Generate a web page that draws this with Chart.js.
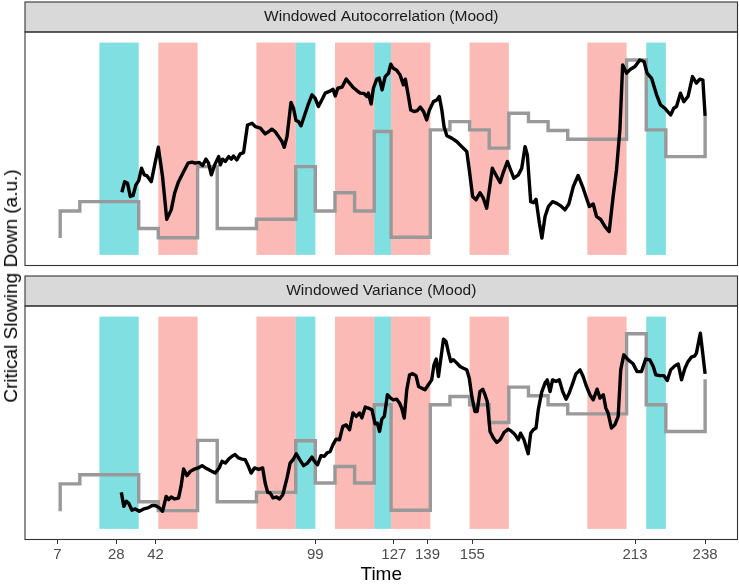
<!DOCTYPE html>
<html lang="en">
  <head>
    <meta charset="UTF-8" />
    <title>Critical Slowing Down (Mood)</title>
    <script src="https://cdn.jsdelivr.net/npm/chart.js@4.4.1/dist/chart.umd.min.js"></script>
    <style>
      body {
        margin: 0;
        background: #ffffff;
        font-family: 'Liberation Sans', Arial, Helvetica, sans-serif;
      }
      #wrap {
        position: relative;
        width: 739px;
        height: 584px;
        background: #ffffff;
      }
      #top, #bottom {
        position: absolute;
        left: 0;
      }
      #top { top: 0; }
      #bottom { top: 270px; }
      #ytitle {
        position: absolute;
        left: 11px;
        top: 286px;
        transform: translate(-50%, -50%) rotate(-90deg);
        white-space: nowrap;
        font-size: 19px;
        color: #000000;
      }
    </style>
  </head>
  <body>
    <div id="wrap">
      <canvas id="top" width="739" height="270"></canvas>
      <canvas id="bottom" width="739" height="314"></canvas>
      <div id="ytitle">Critical Slowing Down (a.u.)</div>
    </div>

    <script>
      // axis ticks shown on the time axis
      const timeTicks = [7, 28, 42, 99, 127, 139, 155, 213, 238];
      const timeMin = 7;
      const timeMax = 238;

      // shaded periods
      const cyanStart = [22, 92, 120, 217];
      const cyanEnd = [36, 99, 126, 224];
      const salmonStart = [43, 78, 106, 126, 154, 196];
      const salmonEnd = [57, 92, 120, 140, 168, 210];
      const bandLow = 0;
      const bandHigh = 1;

      // grey step line (value holds from each time onward)
      const acStepTime = [8, 8, 15, 36, 43, 57, 64, 78, 92, 99, 106, 113, 120, 126, 140, 147, 154, 161, 168, 175, 182, 189, 210, 217, 224, 238];
      const acStepValue = [0.079, 0.207, 0.251, 0.124, 0.081, 0.416, 0.124, 0.168, 0.416, 0.207, 0.293, 0.207, 0.581, 0.083, 0.589, 0.628, 0.589, 0.503, 0.667, 0.628, 0.586, 0.545, 0.918, 0.589, 0.463, 0.655];

      const varStepTime = [8, 8, 15, 36, 43, 57, 64, 78, 92, 99, 106, 113, 120, 126, 140, 147, 154, 161, 168, 175, 182, 189, 210, 217, 224, 238];
      const varStepValue = [0.083, 0.212, 0.255, 0.128, 0.086, 0.417, 0.128, 0.172, 0.415, 0.216, 0.294, 0.216, 0.585, 0.088, 0.585, 0.624, 0.585, 0.501, 0.668, 0.627, 0.585, 0.542, 0.919, 0.585, 0.459, 0.705];

      // windowed autocorrelation (black)
      const acTime = [30, 31, 32, 33, 34, 35, 36, 37, 38, 39, 40.5, 41.7, 43, 44.5, 46, 47.6, 48.8, 50.2, 52, 53.6,
        55, 56.1, 57.6, 58.8, 60, 60.9, 61.9, 63.1, 64.5, 65.1, 65.9, 66.9, 68.1, 69, 69.8, 71, 72.2, 73.4, 74.8, 76.4,
        77.6, 79.4, 81.1, 82.3, 83.5, 84.7, 85.9, 87.1, 87.9, 88.9, 90.3, 91.2, 92.1, 93, 93.9, 95, 96.6, 97.8, 98.9, 100.1,
        101.3, 102.5, 104, 105.3, 106.1, 107, 108.5, 110, 111.2, 112.4, 113.8, 115, 116.4, 117.4, 117.9, 118.9, 119.7, 120.9, 121.8, 122.8,
        123.9, 125.1, 125.9, 126.8, 128, 129.2, 130.4, 131.1, 132.2, 133, 134.2, 135.4, 136.4, 137.6, 138.7, 139.7, 141.1, 142.3, 143.2, 144.1,
        144.9, 145.9, 147.6, 149.4, 151.2, 153, 153.9, 155.1, 156.3, 157.7, 158.9, 160.1, 161.3, 162.1, 163.7, 164.9, 166, 167.5, 168.4, 169.8,
        171.4, 172.6, 173.8, 174.6, 175.8, 176.8, 177.7, 178.9, 179.8, 180.9, 182.1, 183.6, 185.1, 186.5, 188, 189.4, 191, 192.7, 194.3, 195.5,
        196.7, 198.1, 199.3, 200.7, 202.3, 203.8, 205.2, 206.4, 207.6, 208.6, 210, 211.4, 213, 214.7, 216.2, 217.3, 218.9, 220.7, 222.1, 223.6,
        225.7, 226.8, 227.8, 229.2, 230.4, 231.9, 233.5, 234.9, 236.1, 237.2, 238];
      const acValue = [0.295, 0.345, 0.338, 0.275, 0.28, 0.33, 0.35, 0.408, 0.377, 0.372, 0.345, 0.424, 0.507, 0.369, 0.168, 0.212, 0.29, 0.345, 0.392, 0.432,
        0.437, 0.432, 0.435, 0.421, 0.451, 0.432, 0.377, 0.424, 0.463, 0.424, 0.451, 0.44, 0.463, 0.451, 0.466, 0.447, 0.476, 0.482, 0.612, 0.62,
        0.604, 0.597, 0.57, 0.58, 0.592, 0.58, 0.557, 0.534, 0.507, 0.557, 0.718, 0.691, 0.633, 0.628, 0.608, 0.652, 0.714, 0.754, 0.738, 0.699,
        0.73, 0.762, 0.77, 0.78, 0.749, 0.785, 0.79, 0.828, 0.809, 0.79, 0.774, 0.762, 0.76, 0.746, 0.762, 0.711, 0.785, 0.828, 0.833, 0.777,
        0.84, 0.856, 0.898, 0.879, 0.87, 0.848, 0.801, 0.828, 0.746, 0.683, 0.675, 0.68, 0.696, 0.675, 0.636, 0.683, 0.722, 0.73, 0.746, 0.683,
        0.604, 0.561, 0.55, 0.534, 0.51, 0.487, 0.4, 0.275, 0.259, 0.293, 0.267, 0.22, 0.33, 0.408, 0.369, 0.341, 0.388, 0.44, 0.408, 0.361,
        0.377, 0.408, 0.51, 0.471, 0.251, 0.246, 0.262, 0.149, 0.079, 0.18, 0.228, 0.251, 0.243, 0.231, 0.212, 0.24, 0.322, 0.374, 0.322, 0.275,
        0.228, 0.24, 0.18, 0.168, 0.133, 0.11, 0.275, 0.4, 0.589, 0.895, 0.856, 0.875, 0.887, 0.918, 0.911, 0.856, 0.832, 0.754, 0.707, 0.691,
        0.659, 0.691, 0.699, 0.762, 0.722, 0.746, 0.84, 0.809, 0.828, 0.823, 0.655];

      // windowed variance (black)
      const varTime = [29.8, 30.7, 31.6, 32.4, 33.6, 34.8, 36.2, 37.8, 39.3, 40.8, 41.9, 43.4, 44.5, 45.8, 46.7, 47.6, 48.8, 50.2, 51.1, 52,
        53.2, 54.4, 55.6, 57.2, 58.6, 59.8, 60.9, 62.1, 63.3, 64.7, 65.7, 66.9, 68.1, 69.3, 70.4, 71.6, 72.8, 74, 75, 76.1,
        77.3, 78.8, 80.2, 81.1, 82, 82.9, 83.9, 85.1, 86.2, 87.4, 88.9, 90, 91.2, 92.2, 93.4, 94.8, 96.2, 97.8, 98.7, 99.8,
        101, 102.2, 103.1, 104.3, 105.3, 106.4, 107.6, 108.8, 110, 111.2, 112.4, 113.6, 114.8, 115.6, 116.8, 117.9, 119.2, 120.3, 121.1, 121.9,
        122.7, 123.6, 124.7, 125.9, 126.8, 128, 129, 129.8, 130.7, 131.6, 132.6, 133.7, 134.9, 135.8, 137, 138.1, 139.3, 140.5, 141.3, 142.1,
        142.9, 143.7, 144.7, 145.6, 146.4, 147.3, 148.2, 149.4, 150.6, 151.8, 153, 153.9, 154.8, 155.9, 156.7, 157.7, 158.7, 159.5, 160.3, 161.3,
        162.5, 163.7, 164.9, 166.3, 167.8, 169, 170.2, 171.4, 172.2, 173.4, 174.9, 175.8, 176.7, 177.7, 178.5, 179.7, 180.9, 181.7, 182.7, 183.6,
        184.8, 186, 187.2, 188.4, 189.5, 190.8, 191.9, 193.4, 194.5, 195.7, 196.9, 198.1, 199.5, 200.5, 201.7, 202.6, 203.4, 204.6, 205.8, 207,
        207.9, 209, 210.6, 212.3, 213.7, 215.3, 216.8, 218.3, 219.5, 220.4, 221.8, 223.3, 224.5, 225.7, 227.2, 228.4, 229.6, 230.8, 231.9, 233.1,
        234.3, 234.9, 236.3, 237, 238];
      const varValue = [0.172, 0.106, 0.13, 0.122, 0.088, 0.094, 0.083, 0.094, 0.099, 0.11, 0.11, 0.099, 0.083, 0.153, 0.138, 0.15, 0.141, 0.145, 0.2, 0.282,
        0.251, 0.271, 0.28, 0.287, 0.298, 0.287, 0.28, 0.271, 0.263, 0.287, 0.318, 0.31, 0.329, 0.342, 0.35, 0.334, 0.329, 0.326, 0.298, 0.263,
        0.287, 0.28, 0.287, 0.216, 0.172, 0.169, 0.146, 0.15, 0.141, 0.161, 0.24, 0.31, 0.329, 0.354, 0.326, 0.298, 0.31, 0.338, 0.318, 0.302,
        0.345, 0.342, 0.357, 0.365, 0.397, 0.423, 0.42, 0.483, 0.49, 0.467, 0.546, 0.53, 0.546, 0.523, 0.574, 0.569, 0.561, 0.495, 0.498, 0.459,
        0.517, 0.53, 0.632, 0.616, 0.608, 0.611, 0.593, 0.569, 0.522, 0.655, 0.726, 0.731, 0.722, 0.671, 0.663, 0.655, 0.679, 0.702, 0.773, 0.8,
        0.718, 0.797, 0.894, 0.883, 0.835, 0.788, 0.797, 0.782, 0.765, 0.757, 0.75, 0.71, 0.624, 0.553, 0.553, 0.647, 0.658, 0.632, 0.6, 0.459,
        0.428, 0.407, 0.42, 0.454, 0.47, 0.459, 0.444, 0.42, 0.451, 0.42, 0.354, 0.451, 0.467, 0.475, 0.561, 0.643, 0.687, 0.702, 0.647, 0.702,
        0.695, 0.702, 0.647, 0.611, 0.639, 0.687, 0.73, 0.749, 0.718, 0.671, 0.632, 0.608, 0.658, 0.616, 0.632, 0.569, 0.546, 0.475, 0.49, 0.53,
        0.749, 0.82, 0.796, 0.778, 0.741, 0.741, 0.8, 0.796, 0.765, 0.726, 0.722, 0.722, 0.699, 0.749, 0.768, 0.777, 0.702, 0.757, 0.788, 0.809,
        0.815, 0.828, 0.922, 0.844, 0.73];

      const FONT = "'Liberation Sans', Arial, Helvetica, sans-serif";
      const CYAN = 'rgba(0, 191, 196, 0.5)';
      const SALMON = 'rgba(248, 118, 109, 0.5)';
      const FRAME = '#333333';

      const toPoints = (xs, ys) => xs.map((x, i) => ({ x: x, y: ys[i] }));

      // shaded bands behind the lines
      const bandsPlugin = {
        id: 'bands',
        beforeDatasetsDraw(chart) {
          const { ctx, scales: { x, y } } = chart;
          const yTop = y.getPixelForValue(bandHigh);
          const yBot = y.getPixelForValue(bandLow);
          ctx.save();
          const fillBand = (s, e, color) => {
            const x0 = x.getPixelForValue(s);
            const x1 = x.getPixelForValue(e);
            ctx.fillStyle = color;
            ctx.fillRect(x0, yTop, x1 - x0, yBot - yTop);
          };
          cyanStart.forEach((s, i) => fillBand(s, cyanEnd[i], CYAN));
          salmonStart.forEach((s, i) => fillBand(s, salmonEnd[i], SALMON));
          ctx.restore();
        },
      };

      // facet strip above the panel + panel border
      const stripPlugin = {
        id: 'strip',
        afterDraw(chart, args, opts) {
          const { ctx, chartArea: a } = chart;
          ctx.save();
          const h = 30;
          ctx.fillStyle = '#d9d9d9';
          ctx.fillRect(a.left, a.top - h, a.right - a.left, h);
          ctx.strokeStyle = FRAME;
          ctx.lineWidth = 1.1;
          ctx.strokeRect(a.left, a.top - h, a.right - a.left, h);
          ctx.strokeRect(a.left, a.top, a.right - a.left, a.bottom - a.top);
          ctx.fillStyle = '#1a1a1a';
          ctx.font = '15.5px ' + FONT;
          ctx.textAlign = 'center';
          ctx.textBaseline = 'middle';
          ctx.fillText(opts.text, (a.left + a.right) / 2, a.top - h / 2);
          ctx.restore();
        },
      };

      function makeChart(canvasId, title, stepT, stepV, lineT, lineV, showAxis) {
        const ctx = document.getElementById(canvasId).getContext('2d');
        const xPad = (timeMax - timeMin) * 0.05;
        return new Chart(ctx, {
          type: 'line',
          data: {
            datasets: [
              {
                data: toPoints(lineT, lineV),
                borderColor: '#000000',
                borderWidth: 3.4,
                pointRadius: 0,
                borderJoinStyle: 'round',
                tension: 0,
                order: 1,
              },
              {
                data: toPoints(stepT, stepV),
                borderColor: '#999999',
                borderWidth: 3.4,
                pointRadius: 0,
                stepped: 'before',
                order: 2,
              },
            ],
          },
          options: {
            responsive: false,
            animation: false,
            events: [],
            layout: {
              padding: showAxis
                ? { left: 25, right: 1.5, top: 36, bottom: 0 }
                : { left: 25, right: 1.5, top: 32, bottom: 4.5 },
            },
            plugins: {
              legend: { display: false },
              tooltip: { enabled: false },
              strip: { text: title },
            },
            scales: {
              x: {
                type: 'linear',
                min: timeMin - xPad,
                max: timeMax + xPad,
                display: showAxis,
                position: 'bottom',
                border: { display: false },
                grid: {
                  drawOnChartArea: false,
                  drawTicks: true,
                  tickLength: 4.5,
                  color: FRAME,
                  lineWidth: 1,
                },
                ticks: {
                  autoSkip: false,
                  maxRotation: 0,
                  padding: 1.5,
                  color: '#4d4d4d',
                  font: { size: 15, family: FONT },
                },
                title: {
                  display: true,
                  text: 'Time',
                  color: '#000000',
                  font: { size: 19, family: FONT, lineHeight: 0.9 },
                  padding: { top: 0, bottom: 0.5 },
                },
                afterBuildTicks: (axis) => {
                  axis.ticks = timeTicks.map((v) => ({ value: v }));
                },
                afterFit: (axis) => {
                  axis.height = showAxis ? 44.5 : 0;
                },
              },
              y: {
                display: false,
                min: bandLow - 0.05,
                max: bandHigh + 0.05,
              },
            },
          },
          plugins: [bandsPlugin, stripPlugin],
        });
      }

      makeChart('top', 'Windowed Autocorrelation (Mood)', acStepTime, acStepValue, acTime, acValue, false);
      makeChart('bottom', 'Windowed Variance (Mood)', varStepTime, varStepValue, varTime, varValue, true);
    </script>
  </body>
</html>
